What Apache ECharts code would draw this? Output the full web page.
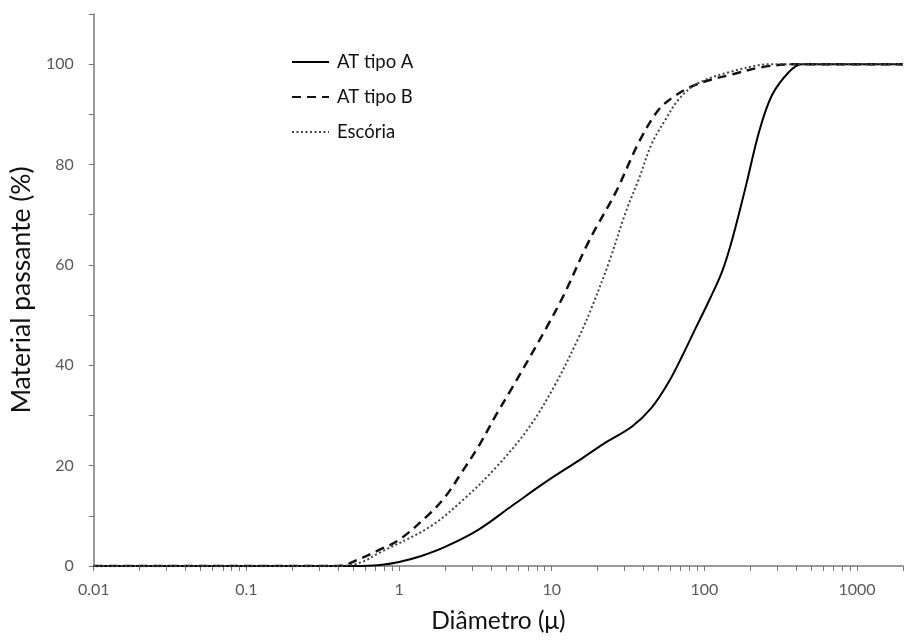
<!DOCTYPE html>
<html>
<head>
<meta charset="utf-8">
<script src="https://cdn.jsdelivr.net/npm/echarts@6/dist/echarts.min.js"></script>
<style>html,body{margin:0;padding:0;background:#fff}#c{width:906px;height:642px}</style>
</head>
<body>
<div id="c"></div>
<script>
const seriesNames = ['AT tipo A', 'AT tipo B', 'Escória'];
const xLabelValues = [0.01, 0.1, 1, 10, 100, 1000];
const yLabelValues = [0, 20, 40, 60, 80, 100];

// [diameter (µ), % passing]
const atTipoA = [[0.01,0],[0.5,0],[0.75,0.2],[1,0.8],[1.4,2],[2,3.8],[3.3,7.2],[5.5,12],[9.2,16.8],[15,21],[22,24.4],[33.6,27.8],[45,31.5],[58,36.5],[72,42],[88,47.5],[107,52.8],[130,58.5],[151,64.7],[188,76],[228,86.5],[277,93.8],[357,98.4],[433,100],[2000,100]];
const atTipoB = [[0.01,0],[0.4,0],[0.57,1.6],[0.74,3.2],[1,5.2],[1.57,10.3],[2.03,14],[2.59,18.8],[3.34,24],[4.3,30],[5.5,35.5],[9.2,47.4],[12,54],[17.5,64.7],[26.4,74.6],[37.3,84.5],[50.4,91],[65,93.8],[83,95.6],[110,96.9],[145,97.8],[237,99.4],[395,100],[2000,100]];
const escoria = [[0.01,0],[0.42,0],[0.57,0.8],[0.74,2.6],[1.57,7.7],[2.59,13],[4.3,19.6],[7.1,27.6],[10.6,36.3],[15,45.5],[18,51],[23.7,60.5],[30.6,70.6],[37.3,77.2],[45,84],[55.7,89],[68,93],[88,96],[145,98.4],[277,100],[2000,100]];

const minorX = [];
for (let e = -2; e <= 3; e++) {
  for (let k = 1; k <= 9; k++) {
    const v = +(k * Math.pow(10, e)).toPrecision(3);
    if (v <= 2000) minorX.push(v);
  }
}
minorX.push(2000);

const font = 'Lato, "Open Sans", "Noto Sans", sans-serif';
const chart = echarts.init(document.getElementById('c'));
chart.setOption({
  animation: false,
  backgroundColor: '#fff',
  grid: { left: 93, right: 3, top: 14, bottom: 76 },
  legend: {
    orient: 'vertical', left: 286, top: 47, itemWidth: 37, itemHeight: 14, itemGap: 15,
    data: seriesNames,
    itemStyle: { opacity: 0 },
    textStyle: { fontFamily: font, fontSize: 18.5, lineHeight: 20, color: '#111', padding: [0, 0, 0, 3] }
  },
  xAxis: {
    type: 'log', min: 0.01, max: 2000, logBase: 10,
    name: 'Diâmetro (μ)', nameLocation: 'middle', nameGap: 43,
    nameTextStyle: { fontFamily: font, fontSize: 24.5, color: '#111' },
    axisLine: { lineStyle: { color: '#777', width: 1.5 } },
    axisTick: { show: true, inside: false, length: 5, customValues: minorX, lineStyle: { color: '#777' } },
    axisLabel: { customValues: xLabelValues, fontFamily: font, fontSize: 16, color: '#595959', margin: 16,
      formatter: v => String(v) },
    splitLine: { show: false }
  },
  yAxis: {
    type: 'value', min: 0, max: 110, interval: 10,
    name: 'Material passante (%)', nameLocation: 'middle', nameGap: 51, nameRotate: 90,
    nameTextStyle: { fontFamily: font, fontSize: 26.5, color: '#111' },
    axisLine: { show: true, lineStyle: { color: '#777', width: 1.5 } },
    axisTick: { show: true, inside: false, length: 5, lineStyle: { color: '#777' } },
    axisLabel: { customValues: yLabelValues, fontFamily: font, fontSize: 16, color: '#595959', margin: 20 },
    splitLine: { show: false }
  },
  series: [
    { name: seriesNames[0], type: 'line', data: atTipoA, smooth: 0.35, showSymbol: false, symbol: 'none',
      lineStyle: { color: '#000', width: 2 }, itemStyle: { color: '#000' } },
    { name: seriesNames[1], type: 'line', data: atTipoB, smooth: 0.35, showSymbol: false, symbol: 'none',
      lineStyle: { color: '#111', width: 2.5, type: [9, 6] }, itemStyle: { color: '#111' } },
    { name: seriesNames[2], type: 'line', data: escoria, smooth: 0.35, showSymbol: false, symbol: 'none',
      lineStyle: { color: '#444', width: 2, type: [2, 2.5] }, itemStyle: { color: '#444' } }
  ]
});
</script>
</body>
</html>
